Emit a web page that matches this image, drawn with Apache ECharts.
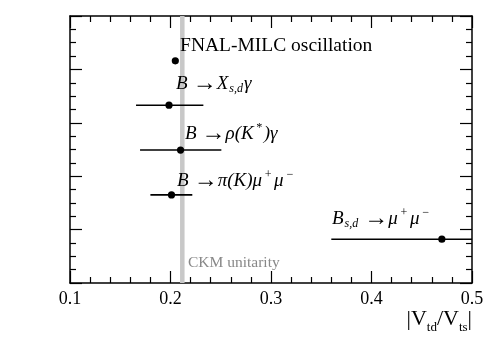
<!DOCTYPE html>
<html>
<head>
<meta charset="utf-8">
<script src="https://cdn.jsdelivr.net/npm/echarts@6/dist/echarts.min.js"></script>
<style>
  html, body { margin: 0; padding: 0; background: #fff; }
  #chart { width: 498px; height: 338px; }
</style>
</head>
<body>
<div id="chart"></div>
<script>
// measurements of |Vtd/Vts|, one row per method (y is the row position)
const names = ['FNAL-MILC oscillation', 'B→Xγ', 'B→ρ(K*)γ', 'B→π(K)μμ', 'Bsd→μμ'];
const rowY = [4.16, 3.33, 2.49, 1.65, 0.82];
const central = [0.2048, 0.1985, 0.2100, 0.2010, 0.4700];
const errLow = [0.2028, 0.1657, 0.1697, 0.1800, 0.3600];
const errHigh = [0.2068, 0.2327, 0.2506, 0.2217, 0.5600];
// annotation anchors (data units)
const labelX = [0.2095, 0.2055, 0.2144, 0.2065, 0.3607];
const labelY = [4.44, 3.73, 2.79, 1.91, 1.20];
const ckmBand = [0.2095, 0.2140];
const ckmLabel = [0.2174, 0.375];

const labelText = [
    '{r|FNAL-MILC oscillation}',
    '{i|B}{a|→}{i|X}{sub|s,d}{i|γ}',
    '{i|B}{a|→}{i|ρ(K}{sup|*}{i|)γ}',
    '{i|B}{a|→}{i|π(K)μ}{sup|+}{i|μ}{sup|−}',
    '{i|B}{sub|s,d}{a|→}{i|μ}{sup|+}{i|μ}{sup|−}'
];

const serif = '"Liberation Serif", "DejaVu Serif", serif';
const rich = {
    r: { fontFamily: serif, fontSize: 19.5, lineHeight: 24, color: '#000' },
    i: { fontFamily: serif, fontSize: 19, fontStyle: 'italic', lineHeight: 24, color: '#000' },
    a: { fontFamily: serif, fontSize: 24, lineHeight: 24, padding: [0, 0, 0, 5], color: '#000' },
    sub: { fontFamily: serif, fontSize: 12, fontStyle: 'italic', lineHeight: 13, padding: [11, 1, 0, 1], verticalAlign: 'top', color: '#000' },
    sup: { fontFamily: serif, fontSize: 12, fontStyle: 'italic', lineHeight: 13, padding: [0, 2, 0, 2], verticalAlign: 'top', color: '#000' }
};

const rows = names.map((n, i) => [central[i], rowY[i], errLow[i], errHigh[i], i]);

const chart = echarts.init(document.getElementById('chart'));

const tickAxisX = (show) => ({
    type: 'value', min: 0.1, max: 0.5, interval: 0.1,
    axisLine: { show: true, onZero: false, lineStyle: { color: '#000', width: 1.5 } },
    axisTick: { show: true, inside: true, length: 12, lineStyle: { color: '#000', width: 1.2 } },
    minorTick: { show: true, splitNumber: 5, length: 6, lineStyle: { color: '#000', width: 1.2 } },
    splitLine: { show: false },
    axisLabel: {
        show: show, margin: 7, fontFamily: serif, fontSize: 18, color: '#000',
        formatter: (v) => v.toFixed(1)
    }
});
const tickAxisY = () => ({
    type: 'value', min: 0, max: 5, interval: 1,
    axisLine: { show: true, onZero: false, lineStyle: { color: '#000', width: 1.5 } },
    axisTick: { show: true, inside: true, length: 12, lineStyle: { color: '#000', width: 1.2 } },
    minorTick: { show: true, splitNumber: 4, length: 6, lineStyle: { color: '#000', width: 1.2 } },
    splitLine: { show: false },
    axisLabel: { show: false }
});

const xBottom = tickAxisX(true);
xBottom.position = 'bottom';
xBottom.name = '|V{s|td}/V{s|ts}|';
xBottom.nameLocation = 'end';
xBottom.nameGap = 0;
xBottom.nameTextStyle = {
    fontFamily: serif, fontSize: 22, color: '#000', align: 'right', verticalAlign: 'top',
    padding: [25, 0, 0, 0],
    rich: { s: { fontFamily: serif, fontSize: 13, color: '#000', lineHeight: 13, padding: [13, 0, 0, 0], verticalAlign: 'top' } }
};
const xTop = tickAxisX(false);
xTop.position = 'top';
const yLeft = tickAxisY();
yLeft.position = 'left';
const yRight = tickAxisY();
yRight.position = 'right';

chart.setOption({
    animation: false,
    grid: { left: 70, right: 26, top: 16, bottom: 55 },
    xAxis: [xBottom, xTop],
    yAxis: [yLeft, yRight],
    series: [
        {
            type: 'custom',
            xAxisIndex: 0, yAxisIndex: 0,
            data: rows,
            markArea: {
                silent: true,
                itemStyle: { color: '#c8c8c8' },
                data: [[{ xAxis: ckmBand[0] }, { xAxis: ckmBand[1] }]]
            },
            renderItem: (params, api) => {
                const lo = api.coord([api.value(2), api.value(1)]);
                const hi = api.coord([api.value(3), api.value(1)]);
                const c = api.coord([api.value(0), api.value(1)]);
                const cs = params.coordSys;
                const right = Math.min(hi[0], cs.x + cs.width);
                return {
                    type: 'group',
                    children: [
                        { type: 'line', shape: { x1: lo[0], y1: lo[1], x2: right, y2: hi[1] }, style: { stroke: '#000', lineWidth: 1.6 } },
                        { type: 'circle', shape: { cx: c[0], cy: c[1], r: 3.6 }, style: { fill: '#000' } }
                    ]
                };
            },
            z: 3
        },
        {
            type: 'custom',
            xAxisIndex: 0, yAxisIndex: 0,
            data: labelX.map((x, i) => [x, labelY[i], i]),
            renderItem: (params, api) => {
                const p = api.coord([api.value(0), api.value(1)]);
                const i = api.value(2);
                return {
                    type: 'text', x: p[0], y: p[1],
                    style: { text: labelText[i], rich: rich, align: 'left', verticalAlign: 'middle' }
                };
            },
            z: 4
        },
        {
            type: 'custom',
            xAxisIndex: 0, yAxisIndex: 0,
            data: [ckmLabel],
            renderItem: (params, api) => {
                const p = api.coord([api.value(0), api.value(1)]);
                return {
                    type: 'text', x: p[0], y: p[1],
                    style: { text: 'CKM unitarity', fontFamily: serif, fontSize: 15.5, fill: '#888', align: 'left', verticalAlign: 'middle' }
                };
            },
            z: 4
        }
    ]
});
</script>
</body>
</html>
